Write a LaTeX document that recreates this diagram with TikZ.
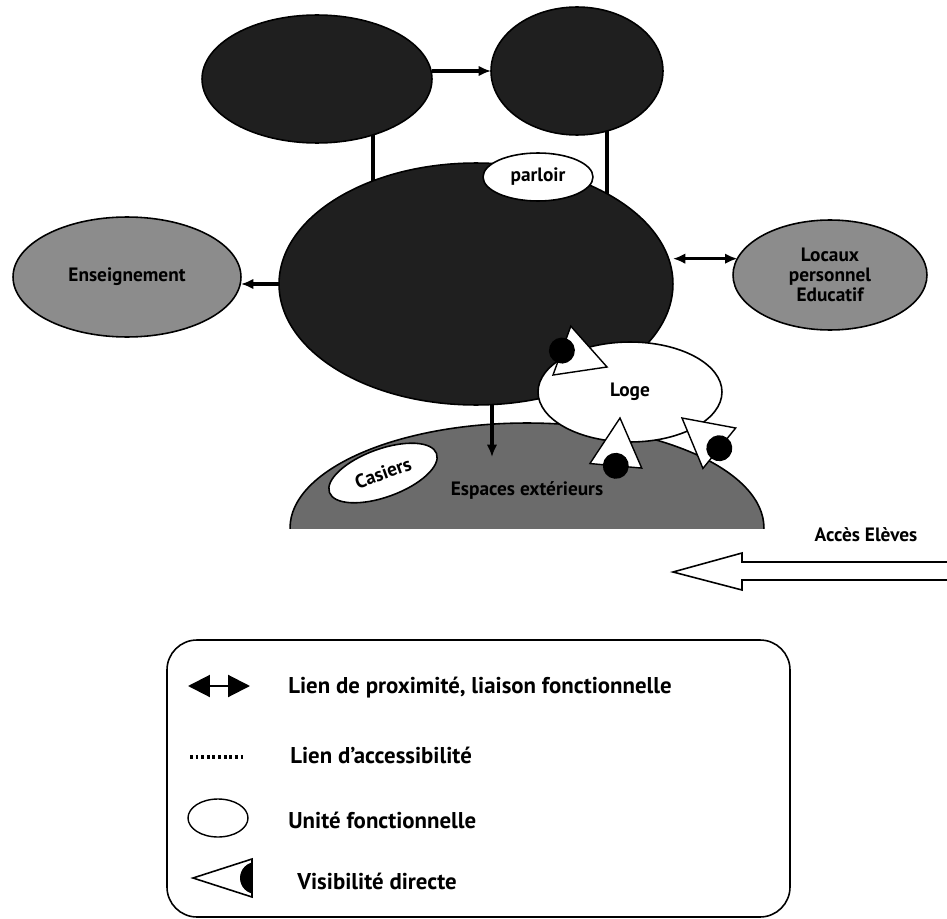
\documentclass[tikz,border=0pt]{standalone}
\usepackage{fontspec}
\setmainfont{PT Sans}
\usetikzlibrary{arrows.meta,shapes.geometric,backgrounds}

\tikzset{
  unite/.style={ellipse, draw=black, line width=0.9pt, inner sep=0pt, outer sep=0pt,
    font=\fontsize{11}{11.5}\selectfont\bfseries},
  bloc/.style={unite, fill=black!88},
  annexe/.style={unite, fill=black!45},
  vide/.style={unite, fill=white},
  cour/.style={unite, fill=black!58},
  link/.style={line width=2pt},
  tip/.style={-{Latex[length=7pt,width=6pt]}},
  legtxt/.style={anchor=west, inner sep=0pt, font=\fontsize{13}{15}\selectfont\bfseries},
  eyemark/.pic={
    \filldraw[fill=white, draw=black, line width=0.8pt] (0,0) -- (48,-26) -- (48,26) -- cycle;
    \fill (48,0) circle (13);
  }
}

\begin{document}
\begin{tikzpicture}[x=0.02cm, y=-0.02cm]
  \useasboundingbox (0,0) rectangle (947,919);

  % upper blocks
  \node[bloc, minimum width=4.6cm, minimum height=2.56cm] (hautG) at (317,79) {};
  \node[bloc, minimum width=3.44cm, minimum height=2.56cm] (hautD) at (577,71) {};

  % central block
  \node[bloc, minimum width=7.88cm, minimum height=4.84cm] (centre) at (476,284) {};
  \node[vide, minimum width=2.2cm, minimum height=0.96cm] (parloir) at (538,177) {parloir};

  % side units
  \node[annexe, minimum width=4.56cm, minimum height=2.4cm] (ens) at (127,277) {Enseignement};
  \node[annexe, minimum width=3.88cm, minimum height=2.2cm, align=center] (locaux) at (830,275)
    {Locaux\\personnel\\Educatif};

  % outdoor space, cut flat at the bottom
  \begin{scope}
    \clip (0,0) rectangle (947,528);
    \node[cour, minimum width=9.48cm, minimum height=4.2cm] (espaces) at (527,528) {};
  \end{scope}
  \node[font=\fontsize{11}{12}\selectfont\bfseries] (espacesTxt) at (527,490) {Espaces extérieurs};
  \node[vide, minimum width=2.28cm, minimum height=0.96cm, rotate=20] (casiers) at (383,473) {Casiers};

  \node[vide, minimum width=3.68cm, minimum height=2cm] (loge) at (630,392) {Loge};

  % links
  \coordinate (pieceG) at ([xshift=1.12cm]hautG.center);
  \coordinate (pieceD) at ([xshift=0.6cm]hautD.center);
  \begin{scope}[on background layer]
    \draw[link] (pieceG) -- (pieceG |- centre.center);
    \draw[link] (pieceD) -- (pieceD |- centre.center);
  \end{scope}
  \draw[link, tip] (hautG.east |- hautD.west) -- (hautD.west);
  \draw[link, tip] (centre.west) -- (ens.east |- centre.west);
  \draw[link, {Latex[length=7pt,width=6pt]}-{Latex[length=7pt,width=6pt]}] (centre.east |- locaux.170) -- (locaux.170);
  \coordinate (chute) at (492,457);
  \draw[link, tip] (chute |- centre.south) -- (chute);

  % direct visibility
  \pic[rotate=160] at (607,367) {eyemark};
  \pic[rotate=-95] at (620,418) {eyemark};
  \pic[rotate=-39] at (682,418) {eyemark};

  % pupils entrance
  \node[font=\fontsize{11}{12}\selectfont\bfseries] (acces) at (866,535) {Accès Elèves};
  \filldraw[fill=white, line width=0.9pt] (673,572) -- (742,553) -- (742,562) -- (960,562)
    -- (960,580) -- (742,580) -- (742,590) -- cycle;

  % legend
  \draw[line width=0.9pt, rounded corners=0.6cm] (167,640) rectangle (790,917);

  \draw[line width=1.2pt, {Triangle[length=0.44cm,width=0.44cm]}-{Triangle[length=0.44cm,width=0.44cm]}]
    (188,686) -- (250,686);
  \node[legtxt] (legProx) at (288,688) {Lien de proximité, liaison fonctionnelle};

  \draw[line width=2pt, dash pattern=on 1.6pt off 1.6pt] (190,757) -- (243,757);
  \node[legtxt] (legAcc) at (290,755) {Lien d’accessibilité};

  \node[vide, minimum width=1.2cm, minimum height=0.76cm, line width=0.8pt] (legUnite) at (218,818) {};
  \node[legtxt] (legUniteTxt) at (288,820) {Unité fonctionnelle};

  \begin{scope}
    \clip (193,878) -- (252,859) -- (252,897) -- cycle;
    \fill (256,878) circle (16);
  \end{scope}
  \draw[line width=0.9pt] (193,878) -- (252,859) -- (252,897) -- cycle;
  \node[legtxt] (legVis) at (297,881) {Visibilité directe};

\end{tikzpicture}
\end{document}
